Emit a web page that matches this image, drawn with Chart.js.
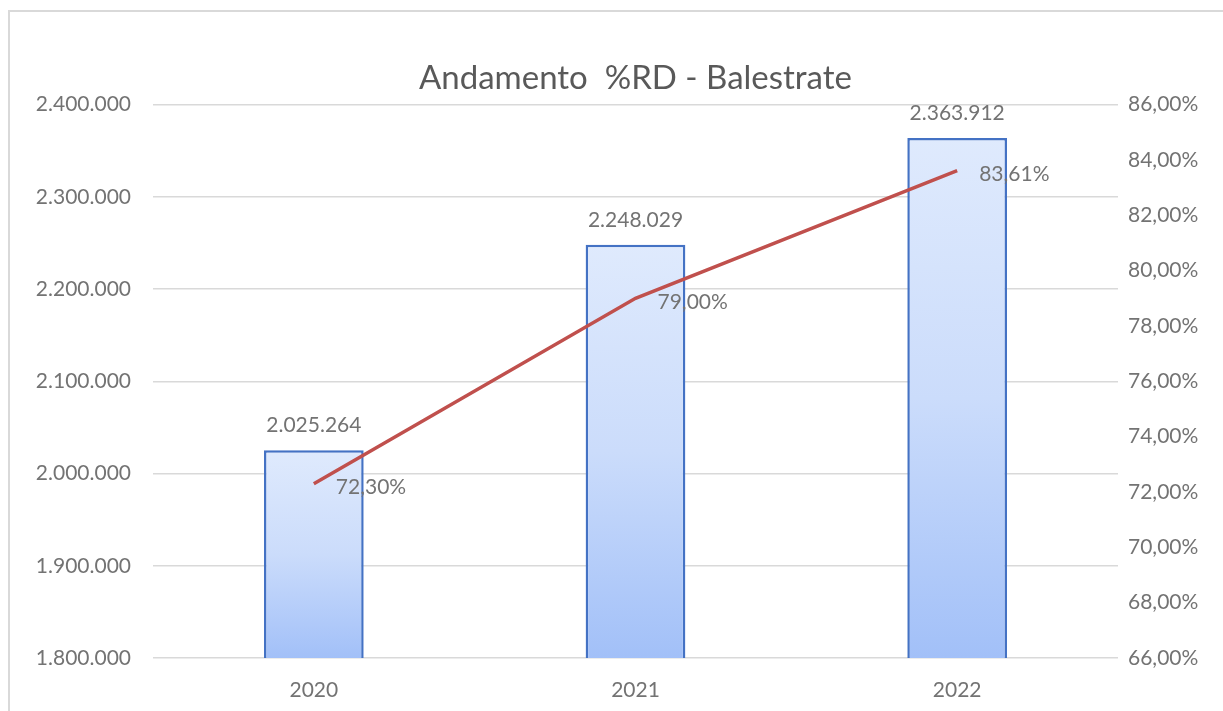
<!DOCTYPE html>
<html>
<head>
<meta charset="utf-8">
<title>Andamento %RD - Balestrate</title>
<script src="https://cdn.jsdelivr.net/npm/chart.js@4.4.1/dist/chart.umd.min.js"></script>
<style>
    html, body { margin: 0; padding: 0; background: #ffffff; overflow: hidden; }
    #cornice {
        position: absolute; left: 8px; top: 10px;
        width: 1400px; height: 900px;
        border: 2px solid #d9d9d9; box-sizing: border-box;
    }
    #contenitore { position: absolute; left: 0; top: 0; width: 1223px; height: 711px; }
</style>
</head>
<body>
<div id="cornice"></div>
<div id="contenitore"><canvas id="graficoRD" width="1223" height="711"></canvas></div>
<script>
// Dati del grafico
const anni = ['2020', '2021', '2022'];
const rifiutiTotali = [2025264, 2248029, 2363912];
const percentualeRD = [72.30, 79.00, 83.61];

const coloreTesto = '#737373';
const fontBase = 'Lato, "Open Sans", sans-serif';

// Formattazione all'italiana
function formattaMigliaia(v) {
    return Math.round(v).toString().replace(/\B(?=(\d{3})+(?!\d))/g, '.');
}
function formattaPercento(v) {
    return v.toFixed(2).replace('.', ',') + '%';
}

// Gradiente per ogni barra (chiaro in alto, più saturo in basso)
function riempimentoBarra(context) {
    const chart = context.chart;
    const { ctx, chartArea, scales } = chart;
    if (!chartArea || context.type !== 'data') return '#c9dbfb';
    const alto = scales.y.getPixelForValue(context.raw);
    const basso = scales.y.getPixelForValue(scales.y.min);
    if (!isFinite(alto) || !isFinite(basso) || alto === basso) return '#c9dbfb';
    const g = ctx.createLinearGradient(0, alto, 0, basso);
    g.addColorStop(0, '#dfeafd');
    g.addColorStop(0.5, '#cbdcfb');
    g.addColorStop(1, '#a2c0f8');
    return g;
}

// Etichette dei valori disegnate a mano
const etichetteValori = {
    id: 'etichetteValori',
    afterDatasetsDraw(chart) {
        const ctx = chart.ctx;
        ctx.save();
        ctx.font = '21px ' + fontBase;
        ctx.fillStyle = coloreTesto;

        // barre: sopra la barra, centrate
        const metaBarre = chart.getDatasetMeta(0);
        metaBarre.data.forEach((el, i) => {
            ctx.textAlign = 'center';
            ctx.textBaseline = 'middle';
            ctx.fillText(formattaMigliaia(rifiutiTotali[i]), el.x, el.y - 25);
        });

        // linea: a destra del punto
        const metaLinea = chart.getDatasetMeta(1);
        metaLinea.data.forEach((el, i) => {
            ctx.textAlign = 'left';
            ctx.textBaseline = 'middle';
            ctx.fillText(formattaPercento(percentualeRD[i]), el.x + 22, el.y + 4);
        });
        ctx.restore();
    }
};

const ctx = document.getElementById('graficoRD').getContext('2d');
new Chart(ctx, {
    type: 'bar',
    data: {
        labels: anni,
        datasets: [{
            type: 'bar',
            label: 'Totale rifiuti',
            data: rifiutiTotali,
            yAxisID: 'y',
            backgroundColor: riempimentoBarra,
            borderColor: '#4472c4',
            borderWidth: 2.5,
            borderSkipped: 'bottom',
            categoryPercentage: 1,
            barPercentage: 0.31,
            order: 2
        }, {
            type: 'line',
            label: '%RD',
            data: percentualeRD,
            yAxisID: 'y1',
            borderColor: '#c0504d',
            borderWidth: 3.5,
            pointRadius: 0,
            tension: 0,
            order: 1
        }]
    },
    options: {
        responsive: false,
        animation: false,
        devicePixelRatio: 1,
        layout: { padding: { top: 0, right: 0, bottom: 0, left: 0 } },
        plugins: {
            legend: { display: false },
            tooltip: { enabled: false },
            title: {
                display: true,
                fullSize: false,
                text: 'Andamento  %RD - Balestrate',
                color: '#595959',
                font: { family: fontBase, size: 33, weight: 'normal' },
                padding: { top: 59, bottom: 6 }
            }
        },
        scales: {
            x: {
                grid: { display: false, drawTicks: false },
                border: { display: false },
                ticks: {
                    color: coloreTesto,
                    font: { family: fontBase, size: 21 },
                    padding: 20
                },
                afterFit(scale) { scale.height = 53; }
            },
            y: {
                position: 'left',
                min: 1800000,
                max: 2400000,
                grid: { color: '#d9d9d9', lineWidth: 1.5, drawTicks: false },
                border: { display: false },
                ticks: {
                    stepSize: 100000,
                    color: coloreTesto,
                    font: { family: fontBase, size: 21 },
                    padding: 22,
                    callback: v => formattaMigliaia(v)
                },
                afterFit(scale) { scale.width = 153; }
            },
            y1: {
                position: 'right',
                min: 66,
                max: 86,
                grid: { drawOnChartArea: false, drawTicks: false },
                border: { display: false },
                ticks: {
                    stepSize: 2,
                    color: coloreTesto,
                    font: { family: fontBase, size: 21 },
                    padding: 10,
                    callback: v => formattaPercento(v)
                },
                afterFit(scale) { scale.width = 105; }
            }
        }
    },
    plugins: [etichetteValori]
});
</script>
</body>
</html>
